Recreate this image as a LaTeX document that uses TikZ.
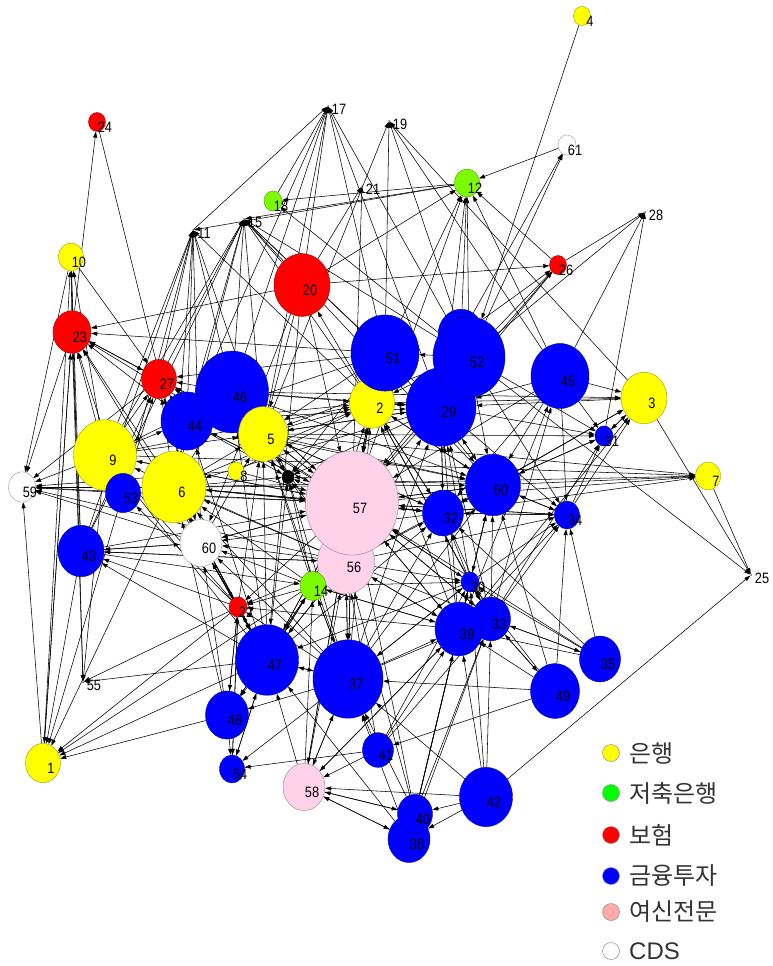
\documentclass[tikz,border=0pt]{standalone}
\usepackage{fontspec}
\usepackage{graphicx}
\setmainfont{Liberation Sans}
\newfontfamily\krfont{Noto Sans CJK KR}
\usetikzlibrary{arrows.meta, shapes.geometric}

\pgfdeclarelayer{edges}
\pgfsetlayers{edges,main}

\definecolor{bankY}{RGB}{255,255,0}
\definecolor{saveG}{RGB}{124,252,0}
\definecolor{insR}{RGB}{255,0,0}
\definecolor{invB}{RGB}{0,0,255}
\definecolor{credP}{RGB}{255,210,234}
\definecolor{legG}{RGB}{0,255,0}
\definecolor{legP}{RGB}{255,170,170}

% squeezed vertex numbers
\newcommand{\nlab}[1]{\scalebox{0.85}[1]{#1}}

\tikzset{
  vtx/.style={ellipse, inner sep=0pt, line width=0.4pt,
    minimum width=#1pt, minimum height=1.12*#1pt},
  lab/.style={font=\fontsize{15}{15}\selectfont, inner sep=0pt, xshift=8pt, yshift=-5.5pt},
  sink/.style={circle, fill=black, inner sep=0pt, minimum size=1.5pt},
  sinklab/.style={font=\fontsize{15}{15}\selectfont, inner sep=0pt, xshift=11pt, yshift=-3pt},
  edge/.style={-{Triangle[length=6pt,width=4pt]}, line width=0.55pt, black},
  keydot/.style={circle, minimum size=17pt, inner sep=0pt, line width=0.5pt, draw=black!45},
  keytxt/.style={anchor=west, inner sep=2pt, font=\fontsize{24}{28}\selectfont, text=black!80}
}

\begin{document}
\begin{tikzpicture}[x=1pt, y=-1pt]
\useasboundingbox (0,0) rectangle (773,966);

% hidden vertex behind 52 and the black hub
\node[vtx=46, fill=invB, draw=invB!60!black] (n36) at (461,335) {};
\node[vtx=12, fill=black, draw=black] (n16) at (288,477) {};

% point vertices
\foreach \id/\x/\y in {11/193/230, 15/244/219, 17/328/106, 19/389/121,
    21/362/186, 25/751/575, 28/645/212, 55/83/682}
  \node[sink, label={[sinklab]center:\nlab{\id}}] (n\id) at (\x,\y) {};

% colour / id / x / y / width
\foreach \c/\id/\x/\y/\d in {
    bankY/4/582/16/17, white/61/567/145/18, saveG/12/467/183/25,
    saveG/18/273/201/18, insR/24/97/122/17, bankY/10/71/257/25,
    insR/26/558/265/17, insR/20/302/285/56, insR/23/72/332/38,
    insR/27/159/379/35, invB/44/187/421/52, invB/46/232/392/73,
    bankY/5/263/434/49, bankY/2/372/403/45, invB/51/385/353/68,
    invB/29/441/407/70, invB/52/469/357/72, invB/45/560/376/58,
    bankY/3/644/398/46, invB/31/604/436/18, bankY/7/708/476/25,
    bankY/8/236/471/16, bankY/9/105/455/63, invB/53/123/493/35,
    bankY/6/174/487/64, white/59/22/487/27, invB/50/493/485/55,
    invB/32/443/513/41, invB/34/567/515/25, white/60/201/543/42,
    invB/43/81/551/46, credP/56/346/562/57, credP/57/352/503/93,
    invB/30/470/582/18, saveG/14/313/586/26, insR/22/238/607/18,
    invB/33/491/619/39, invB/39/459/629/48, invB/35/600/659/41,
    invB/47/267/660/63, invB/37/348/679/70, invB/49/555/691/49,
    invB/48/227/715/43, bankY/1/43/763/35, invB/41/378/750/31,
    invB/54/232/769/25, credP/58/304/787/42, invB/42/486/797/53,
    invB/38/409/839/42, invB/40/415/814/35}
  \node[vtx=\d, fill=\c, draw=\c!60!black, label={[lab]center:\nlab{\id}}] (n\id) at (\x,\y) {};

\begin{pgfonlayer}{edges}
\foreach \s/\tl in {
    1/{59,23,10}, 4/{52}, 8/{2,57,59},
    9/{59,23,27,15,11,55,44,5,2,57,7,10},
    53/{27,23,59,11,57,1},
    6/{59,27,23,15,11,44,46,5,57,50,32,2,60,1,47,7,16},
    43/{23,10,11,27,60,57,56,14,1,15},
    23/{10,24,55,59,27,1}, 10/{59,55,27}, 24/{60}, 27/{15,11,59},
    44/{27,23,17,15,11,2,57,50,29,16},
    46/{27,17,15,11,2,57,29,50,9,3,16},
    5/{19,17,15,11,27,23,2,29,57,50,32,31,7,16},
    20/{26,23,15,17,12,57,5,60,47,21},
    2/{15,11,20,57,50,32,29,3,16},
    51/{19,17,15,12,27,5,44,23,57,50,16},
    52/{61,26,12,19,17,15,51,29,50,31,34,2,5,57,25,18,28},
    36/{12,61,26},
    29/{12,26,17,15,5,2,57,32,50,31,34,6,16},
    45/{3,29,28,31,34,50,32,12,57,19},
    3/{25,29,31,19}, 7/{25}, 31/{3,50,28},
    50/{7,3,31,34,2,29,57,32,30,15,16},
    32/{7,3,34,2,29,5,6,57,60},
    34/{3,31,57,50,32},
    12/{18,15,11}, 61/{12}, 26/{28,12}, 18/{17}, 11/{17},
    57/{21,59,60,5,2,9,6,44,46,27,23,12,26,50,32,34,7,47,37,14,22,30,39,33,58,16},
    56/{59,60,6,9,5,2,29,50,32,34,47,37,14,22,30,39,33,1,43,16},
    60/{27,23,43,59,6,5,22,47,57,11},
    14/{6,60,5,2,57,47,37,22,30,39,48,16},
    22/{60,6,9,53,43,5,47,48,54,1,55},
    30/{32,50,57,29,2,34,39,33,37,47},
    33/{50,34,32,35,49,30,57,2,29,45,31},
    39/{57,56,32,50,34,30,14,22,29,2,3,45,58},
    35/{33,39,30,34,32,57},
    49/{33,39,30,34,37,50,41},
    47/{22,60,14,6,5,9,43,1,55,37,54,48,57,56,32,46,44,16},
    37/{47,22,14,60,56,57,30,39,33,32,50,54,58,48,5,6,2,29,16},
    48/{1,22,54,60,6,14},
    41/{58,37,39,30,56,33,54},
    54/{22,47},
    58/{37,47,56,57,39,40,38,14},
    42/{25,39,33,30,58,37,40,38},
    40/{39,33,30,58,56,57,37},
    38/{58,39,33,30,37,47}}
  \foreach \t in \tl
    \draw[edge] (n\s) -- (n\t);
\end{pgfonlayer}

% sector key
\foreach \c/\k/\y [count=\i] in {bankY/\krfont 은행/753, legG/\krfont 저축은행/793,
    insR/\krfont 보험/835, invB/\krfont 금융투자/876, legP/\krfont 여신전문/912,
    white/CDS/951} {
  \node[keydot, fill=\c] (key\i) at (611,\y) {};
  \node[keytxt] (keyt\i) at (627,\y) {\k};
}
\end{tikzpicture}
\end{document}
